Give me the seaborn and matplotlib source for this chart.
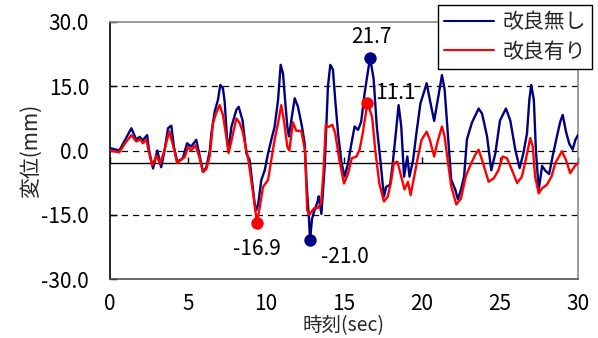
import matplotlib
matplotlib.use("Agg")
import matplotlib.pyplot as plt
import numpy as np
import pandas as pd
import seaborn as sns

# ---------------- data ----------------
series_names = ["改良無し", "改良有り"]
series_colors = ["#00007F", "#FF0000"]

t_blue = [0.0, 0.08, 0.6, 0.97, 1.37, 1.69, 1.9, 2.1, 2.38, 2.5, 2.76, 3.03, 3.28, 3.5,
          3.72, 3.93, 4.1, 4.31, 4.67, 4.94, 5.2, 5.53, 5.7, 5.96, 6.18, 6.4, 6.5, 6.71,
          6.92, 7.07, 7.24, 7.35, 7.5, 7.6, 7.78, 8.1, 8.25, 8.5, 8.74, 8.95, 9.1, 9.27,
          9.38, 9.49, 9.7, 9.92, 10.13, 10.34, 10.55, 10.77, 10.94, 11.09, 11.24, 11.37,
          11.47, 11.62, 11.84, 12.05, 12.31, 12.48, 12.6, 12.76, 12.82, 12.95, 13.07, 13.3,
          13.38, 13.55, 13.76, 13.97, 14.12, 14.29, 14.44, 14.62, 14.83, 15.04, 15.26,
          15.47, 15.68, 15.9, 16.1, 16.32, 16.67, 16.9, 17.1, 17.33, 17.56, 17.7, 17.95,
          18.1, 18.3, 18.5, 18.67, 18.85, 19.06, 19.2, 19.43, 19.64, 19.9, 20.3, 20.5,
          20.78, 21.05, 21.28, 21.45, 21.67, 21.87, 22.13, 22.3, 22.5, 22.7, 22.88, 23.2,
          23.63, 23.85, 24.17, 24.44, 24.7, 25.0, 25.38, 25.66, 25.98, 26.26, 26.5, 26.73,
          26.88, 27.0, 27.17, 27.3, 27.48, 27.7, 27.9, 28.15, 28.37, 28.65, 28.86, 29.02,
          29.23, 29.44, 29.66, 29.83, 30.0]
v_blue = [0.5, 0.5, 0.0, 2.5, 5.2, 2.5, 3.2, 2.4, 3.6, 0.0, -4.2, 0.0, -3.9, 0.0,
          5.2, 5.8, 0.8, -2.6, -1.8, 1.7, 0.9, 2.5, -0.4, -5.0, -3.9, 0.0, 4.0, 9.1,
          11.8, 15.3, 14.5, 11.4, 3.0, 0.0, 5.5, 9.5, 10.2, 7.0, -0.7, -2.2, -6.9, -12.3,
          -13.9, -12.7, -6.9, -4.6, -0.7, 2.5, 5.5, 11.7, 20.0, 18.0, 11.0, 5.5,
          3.3, 7.0, 12.2, 10.2, 5.5, 1.6, -7.7, -16.2, -21.0, -16.0, -14.4, -12.0,
          -10.7, -14.8, -3.9, 14.9, 20.0, 18.9, 11.7, 4.0, -2.6, -6.1, -3.0,
          1.5, 5.6, 4.8, 6.7, 13.3, 21.7, 16.7, 5.7, -2.2, -10.8, -8.5, -8.0,
          -3.8, 3.2, 10.6, 5.6, -6.1, -1.4, -6.1, -2.2, 4.0, 11.0, 15.7, 11.9,
          6.9, 12.6, 17.6, 14.2, 3.3, -6.8, -9.1, -11.4, -9.1, -6.0, 2.6, 6.5,
          9.8, 8.6, 3.3, -4.6, -0.7, 7.0, 9.8, 7.0, 0.2, -4.1, -0.6, 4.0,
          11.8, 15.3, 11.8, 0.2, -9.2, -3.6, -4.7, -5.5, -1.4, 3.3, 6.7, 8.3,
          4.4, 1.6, 0.2, 2.5, 3.6]

t_red = [0.0, 0.6, 0.97, 1.37, 1.69, 1.95, 2.1, 2.33, 2.5, 2.7, 2.99, 3.2, 3.45, 3.8,
         4.07, 4.3, 4.8, 5.0, 5.2, 5.47, 5.7, 5.96, 6.18, 6.4, 6.6, 6.8, 7.03, 7.24,
         7.45, 7.6, 7.8, 8.1, 8.3, 8.5, 8.74, 8.87, 9.17, 9.42, 9.6, 9.81, 10.13, 10.34,
         10.55, 10.77, 10.98, 11.15, 11.37, 11.5, 11.72, 11.94, 12.26, 12.5, 12.64, 12.78,
         13.07, 13.3, 13.53, 13.68, 13.83, 14.0, 14.25, 14.44, 14.7, 15.0, 15.26, 15.5,
         15.8, 16.0, 16.2, 16.5, 16.8, 17.0, 17.26, 17.56, 17.8, 18.0, 18.2, 18.42, 18.67,
         18.88, 19.1, 19.27, 19.5, 19.7, 19.97, 20.3, 20.5, 20.78, 21.0, 21.28, 21.45,
         21.67, 21.87, 22.2, 22.5, 22.8, 23.1, 23.4, 23.63, 23.85, 24.27, 24.6, 24.9,
         25.17, 25.45, 25.77, 26.1, 26.4, 26.65, 26.94, 27.1, 27.25, 27.48, 27.7, 28.0,
         28.3, 28.55, 28.97, 29.23, 29.5, 29.78, 30.0]
v_red = [0.0, -0.4, 1.7, 3.6, 2.1, 2.6, 1.7, 2.5, -0.4, -3.5, -1.2, -3.1, -0.4, 4.5,
         0.8, -2.9, -1.5, 0.8, 0.0, 1.2, -1.2, -5.0, -4.3, -1.2, 6.3, 8.7, 10.6, 8.3,
         3.3, -0.6, 2.5, 7.5, 6.5, 4.5, 0.0, -2.2, -10.0, -16.9, -13.2, -8.5, -6.9, -2.2,
         2.5, 6.3, 10.6, 7.0, 0.8, 0.0, 6.6, 4.6, 4.6, 0.0, -13.9, -15.0,
         -13.5, -13.5, -12.3, -5.4, 6.0, 5.5, 6.0, 4.0, -2.2, -7.7, -5.4, -1.8,
         -1.4, 0.2, 4.0, 11.1, 7.9, 0.2, -7.6, -11.9, -10.8, -7.6, -2.9, -2.6, -6.1,
         -9.1, -7.3, -10.4, -6.1, -2.2, 2.5, 4.4, 2.5, -1.4, 2.1, 5.6, 3.3,
         -2.9, -8.3, -12.6, -11.2, -6.1, -3.4, -1.1, 0.2, -2.2, -7.3, -6.5, -4.6,
         -1.4, -1.8, -4.6, -7.6, -6.1, -2.2, 2.9, 0.9, -6.1, -10.0, -8.8, -8.0,
         -6.1, -2.9, -0.2, -2.2, -5.3, -3.7, -2.9]

# labelled extreme points: (series index, time, value)
peak_series = [0, 1, 1, 0]
peak_t = [16.67, 16.5, 9.42, 12.82]
peak_v = [21.7, 11.1, -16.9, -21.0]
# text offsets (points) of each label from its point
peak_dx = [1, 20, 0, 25]
peak_dy = [15, 7, -19, -12]

x_ticks = [0, 5, 10, 15, 20, 25, 30]
y_ticks = [-30, -15, 0, 15, 30]
grid_levels = [-15, 0, 15]
axis_cross = -3.0
x_label = "時刻(sec)"
y_label = "変位(mm)"

# ---------------- style ----------------
sns.set_style("white")
plt.rcParams["font.family"] = ["Noto Sans CJK JP", "DejaVu Sans"]
plt.rcParams["axes.unicode_minus"] = False

FS = 15
fig = plt.figure(figsize=(5.98, 3.38), dpi=100)
W, H = 598, 338
ax = fig.add_axes([110 / W, 1 - 279 / H, 468 / W, 257 / H])

df = pd.concat([
    pd.DataFrame({"t": t_blue, "v": v_blue, "series": series_names[0]}),
    pd.DataFrame({"t": t_red, "v": v_red, "series": series_names[1]}),
], ignore_index=True)

sns.lineplot(data=df, x="t", y="v", hue="series", hue_order=series_names,
             palette=series_colors, estimator=None, sort=False, linewidth=1.7,
             ax=ax, zorder=3)

# dashed gridlines
for g in grid_levels:
    ax.axhline(g, color="black", linestyle=(0, (5, 4)), linewidth=0.9, zorder=1)

# markers and labels
for s, tt, vv, dx, dy in zip(peak_series, peak_t, peak_v, peak_dx, peak_dy):
    ax.scatter([tt], [vv], s=80, color=series_colors[s], zorder=5, linewidths=0)
    ax.annotate(f"{vv:.1f}", (tt, vv), xytext=(dx, dy), textcoords="offset points",
                ha="center", va="center", fontsize=FS, color="black", zorder=6)

ax.set_xlim(x_ticks[0], x_ticks[-1])
ax.set_ylim(y_ticks[0], y_ticks[-1])
ax.set_xticks(x_ticks)
ax.set_yticks(y_ticks)
ax.set_yticklabels([f"{v:.1f}" for v in y_ticks])
ax.tick_params(axis="x", length=0, pad=10, labelsize=FS, colors="black")
ax.tick_params(axis="y", direction="in", length=5, width=1, pad=15, labelsize=FS,
               colors="black", left=True)
ax.set_xlabel(x_label, fontsize=14, labelpad=0)
ax.set_ylabel(y_label, fontsize=FS, labelpad=0)

for side in ["top", "right"]:
    ax.spines[side].set_color("#8A8A8A")
    ax.spines[side].set_linewidth(1.2)
ax.spines["bottom"].set_color("#505050")
ax.spines["bottom"].set_linewidth(1.2)
ax.spines["left"].set_color("black")
ax.spines["left"].set_linewidth(1.2)

# x axis line crossing at axis_cross with inward ticks
sec = ax.secondary_xaxis((axis_cross - y_ticks[0]) / (y_ticks[-1] - y_ticks[0]))
sec.set_xticks(x_ticks)
sec.tick_params(axis="x", direction="in", length=4, width=1, labelbottom=False,
                labeltop=False, colors="black")
for sp in sec.spines.values():
    sp.set_color("black")
    sp.set_linewidth(1.0)

# legend
handles, labels = ax.get_legend_handles_labels()
ax.get_legend().remove()
leg = fig.legend(handles, labels, loc="upper right",
                 bbox_to_anchor=(592 / W, 1 - 5 / H), frameon=True, fancybox=False,
                 edgecolor="black", framealpha=1, fontsize=15, handlelength=2.4,
                 borderpad=0.3, labelspacing=0.35, handletextpad=0.4,
                 borderaxespad=0)
leg.get_frame().set_linewidth(1.0)
for ln in leg.get_lines():
    ln.set_linewidth(1.5)

fig.savefig("out.png", dpi=100)
